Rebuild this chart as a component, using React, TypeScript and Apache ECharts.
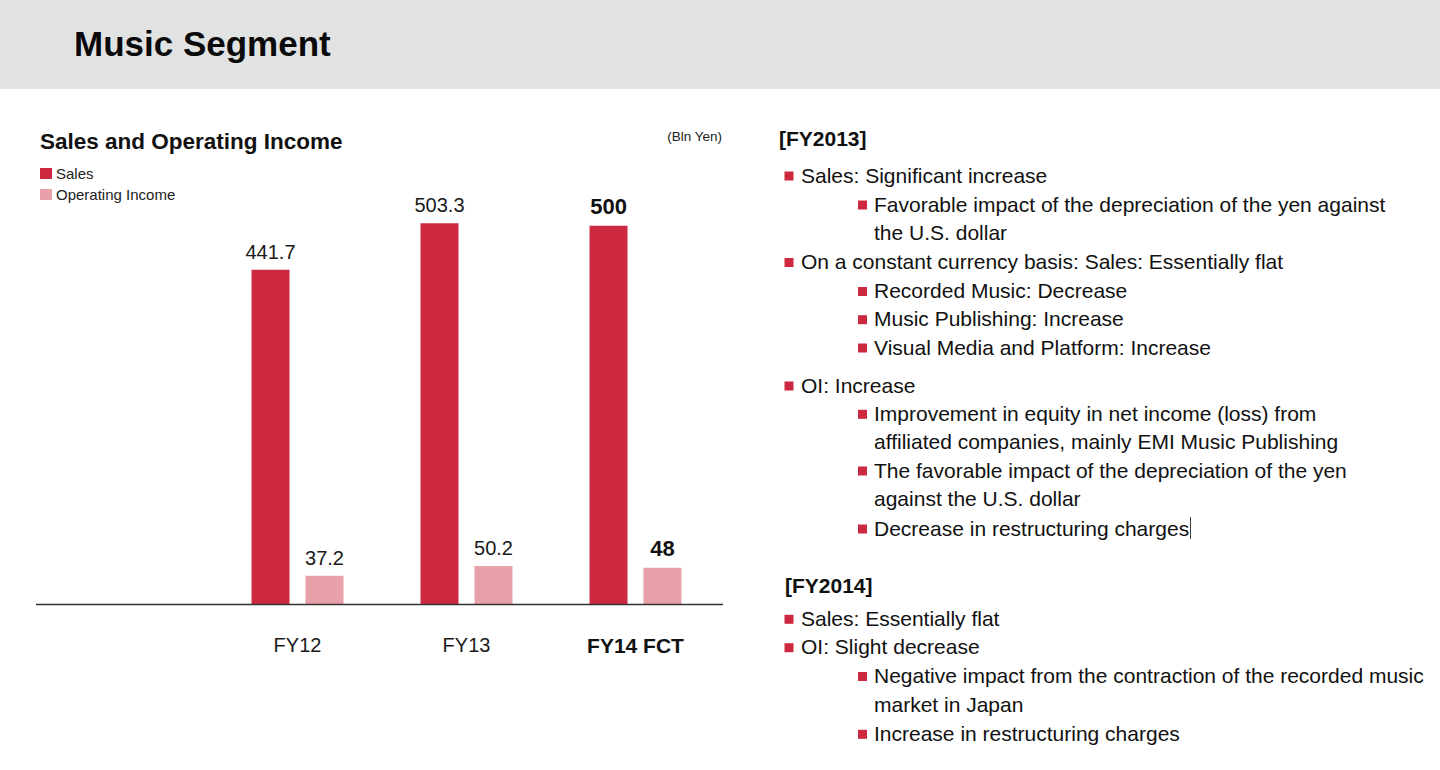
import { useEffect, useRef } from 'react';
import * as echarts from 'echarts';

const FONT = '"Liberation Sans", Arial, sans-serif';
const SALES_COLOR = '#cc2940';
const OI_COLOR = '#e8a0a9';

// Chart data (Bln Yen); first slot is an empty category on the left of the axis
const categories = ['', 'FY12', 'FY13', 'FY14 FCT'];
const sales = [null, 441.7, 503.3, 500];
const operatingIncome = [null, 37.2, 50.2, 48];
const forecastIndex = 3;

// Right-hand commentary: level 0 = heading, 1/2 = bullets, 3 = continuation of a level-2 bullet
const notes: { level: number; text: string; y: number }[] = [
  { level: 0, text: '[FY2013]', y: 138 },
  { level: 1, text: 'Sales: Significant increase', y: 175 },
  { level: 2, text: 'Favorable impact of the depreciation of the yen against', y: 204 },
  { level: 3, text: 'the U.S. dollar', y: 232.7 },
  { level: 1, text: 'On a constant currency basis: Sales: Essentially flat', y: 261.5 },
  { level: 2, text: 'Recorded Music: Decrease', y: 290.5 },
  { level: 2, text: 'Music Publishing: Increase', y: 318.7 },
  { level: 2, text: 'Visual Media and Platform: Increase', y: 347 },
  { level: 1, text: 'OI: Increase', y: 385 },
  { level: 2, text: 'Improvement in equity in net income (loss) from', y: 413.3 },
  { level: 3, text: 'affiliated companies, mainly EMI Music Publishing', y: 441.7 },
  { level: 2, text: 'The favorable impact of the depreciation of the yen', y: 470 },
  { level: 3, text: 'against the U.S. dollar', y: 498.3 },
  { level: 2, text: 'Decrease in restructuring charges', y: 528 },
  { level: 0, text: '[FY2014]', y: 585.5 },
  { level: 1, text: 'Sales: Essentially flat', y: 618.3 },
  { level: 1, text: 'OI: Slight decrease', y: 646.7 },
  { level: 2, text: 'Negative impact from the contraction of the recorded music', y: 675.5 },
  { level: 3, text: 'market in Japan', y: 704 },
  { level: 2, text: 'Increase in restructuring charges', y: 733.3 },
];

function noteGraphics() {
  const out: any[] = [];
  notes.forEach((n, i) => {
    if (n.level === 0) {
      out.push({
        type: 'text',
        x: i === 0 ? 779 : 785,
        y: n.y,
        style: { text: n.text, font: `bold 21px ${FONT}`, fill: '#111', verticalAlign: 'middle' },
      });
      return;
    }
    const textX = n.level === 1 ? 801 : 874;
    const bulletX = n.level === 1 ? 784.5 : 858;
    if (n.level !== 3) {
      out.push({
        type: 'rect',
        shape: { x: bulletX, y: n.y - 3.5, width: 9, height: 9 },
        style: { fill: SALES_COLOR },
      });
    }
    out.push({
      type: 'text',
      x: textX,
      y: n.y,
      style: { text: n.text, font: `21px ${FONT}`, fill: '#111', verticalAlign: 'middle' },
    });
  });
  // text cursor left after "charges"
  out.push({
    type: 'line',
    shape: { x1: 1190.5, y1: 517, x2: 1190.5, y2: 539 },
    style: { stroke: '#444', lineWidth: 1 },
  });
  return out;
}

export default function App() {
  const ref = useRef<HTMLDivElement>(null);

  useEffect(() => {
    document.body.style.margin = '0';
    if (!ref.current) return;
    const chart = echarts.init(ref.current, null, { renderer: 'svg' });

    const valueLabel = { show: true, position: 'top', distance: 8, fontSize: 20, color: '#1a1a1a', fontFamily: FONT };
    const withForecast = (arr: (number | null)[]) =>
      arr.map((v, i) =>
        i === forecastIndex ? { value: v, label: { fontWeight: 'bold', fontSize: 22, color: '#111' } } : v,
      );

    chart.setOption({
      animation: false,
      textStyle: { fontFamily: FONT },
      grid: { left: 44, right: 720, top: 150, bottom: 166 },
      legend: {
        left: 35,
        top: 161,
        orient: 'vertical',
        icon: 'rect',
        itemWidth: 12,
        itemHeight: 11,
        itemGap: 6,
        selectedMode: false,
        textStyle: { fontSize: 15, color: '#222', fontFamily: FONT, padding: [0, 0, 0, -1] },
        data: ['Sales', 'Operating Income'],
      },
      xAxis: {
        type: 'category',
        data: categories,
        axisLine: { show: false },
        axisTick: { show: false },
        axisLabel: {
          margin: 31,
          fontSize: 20,
          color: '#1a1a1a',
          fontFamily: FONT,
          formatter: (v: string, i: number) => (i === forecastIndex ? `{b|${v}}` : v),
          rich: { b: { fontSize: 21, fontWeight: 'bold', color: '#111', fontFamily: FONT } },
        },
      },
      yAxis: { type: 'value', min: 0, max: 600, show: false, splitLine: { show: false } },
      series: [
        {
          name: 'Sales',
          type: 'bar',
          data: withForecast(sales),
          barWidth: 38,
          barGap: '42%',
          itemStyle: { color: SALES_COLOR },
          label: valueLabel,
        },
        {
          name: 'Operating Income',
          type: 'bar',
          data: withForecast(operatingIncome),
          barWidth: 38,
          itemStyle: { color: OI_COLOR },
          label: valueLabel,
        },
      ],
      graphic: [
        { type: 'rect', shape: { x: 0, y: 0, width: 1440, height: 89 }, style: { fill: '#e1e3e2' }, z: -1 },
        {
          type: 'text',
          x: 74,
          y: 43,
          style: { text: 'Music Segment', font: `bold 35px ${FONT}`, fill: '#0a0a0a', verticalAlign: 'middle' },
        },
        {
          type: 'text',
          x: 40,
          y: 141,
          style: { text: 'Sales and Operating Income', font: `bold 22.5px ${FONT}`, fill: '#111', verticalAlign: 'middle' },
        },
        {
          type: 'text',
          x: 722,
          y: 136,
          style: { text: '(Bln Yen)', font: `13.5px ${FONT}`, fill: '#222', align: 'right', verticalAlign: 'middle' },
        },
        {
          type: 'line',
          shape: { x1: 36, y1: 604.5, x2: 723, y2: 604.5 },
          style: { stroke: '#333', lineWidth: 1.5 },
          z: 10,
        },
        ...noteGraphics(),
      ],
    });

    return () => chart.dispose();
  }, []);

  return <div ref={ref} style={{ width: 1440, height: 770 }} />;
}
